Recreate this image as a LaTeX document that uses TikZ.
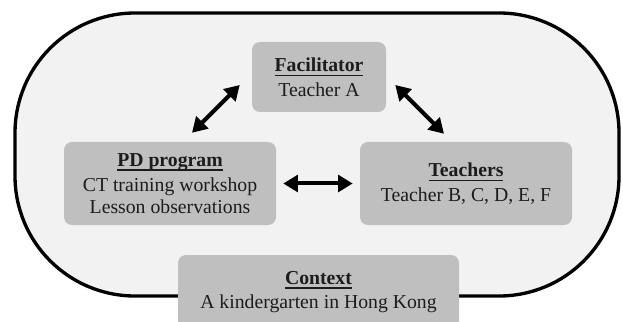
\documentclass[tikz,border=0pt]{standalone}
\usepackage{fontspec}
\setmainfont{Liberation Serif}
\usetikzlibrary{arrows.meta}

\definecolor{boxgray}{RGB}{191,191,191}
\definecolor{ringfill}{RGB}{242,242,242}
\definecolor{inkgray}{RGB}{28,28,28}

\newcommand{\boxtitle}[1]{\setbox0=\hbox{\bfseries #1}\rlap{\rule[-3.4pt]{\wd0}{1pt}}\box0}

\tikzset{
  part/.style={fill=boxgray, rounded corners=6pt, align=center, inner sep=0pt,
    text=inkgray, font=\fontsize{14.8}{16.8}\selectfont},
  link/.style={{Triangle[length=11pt,width=12.5pt]}-{Triangle[length=11pt,width=12.5pt]},
    line width=3pt, draw=black}
}

\begin{document}
\begin{tikzpicture}[x=0.75pt,y=0.75pt]
  \useasboundingbox (0,0) rectangle (623,321);
  \draw[line width=2.5pt, fill=ringfill, rounded corners=90pt] (15,25) rectangle (619,308);

  \node[part, minimum width=100.5pt, minimum height=52.5pt] (fac) at (319,244)
    {\boxtitle{Facilitator}\\[1.8pt] Teacher A};
  \node[part, minimum width=159pt, minimum height=62.25pt] (pd) at (170,137.5)
    {\boxtitle{PD program}\\[1.8pt] CT training workshop\\ Lesson observations};
  \node[part, minimum width=159pt, minimum height=62.25pt] (teachers) at (466,137.5)
    {\boxtitle{Teachers}\\[1.8pt] Teacher B, C, D, E, F};
  \node[part, minimum width=210.75pt, minimum height=55.5pt] (context) at (318.5,29)
    {\boxtitle{Context}\\[1.8pt] A kindergarten in Hong Kong};

  \draw[link] ([shift={(22,9)}]pd.north) -- ([shift={(-12,-8)}]fac.west);
  \draw[link] ([shift={(9,-8)}]fac.east) -- ([shift={(-22,8)}]teachers.north);
  \draw[link, shorten <=5.25pt, shorten >=5.25pt] (pd) -- (teachers);
\end{tikzpicture}
\end{document}
